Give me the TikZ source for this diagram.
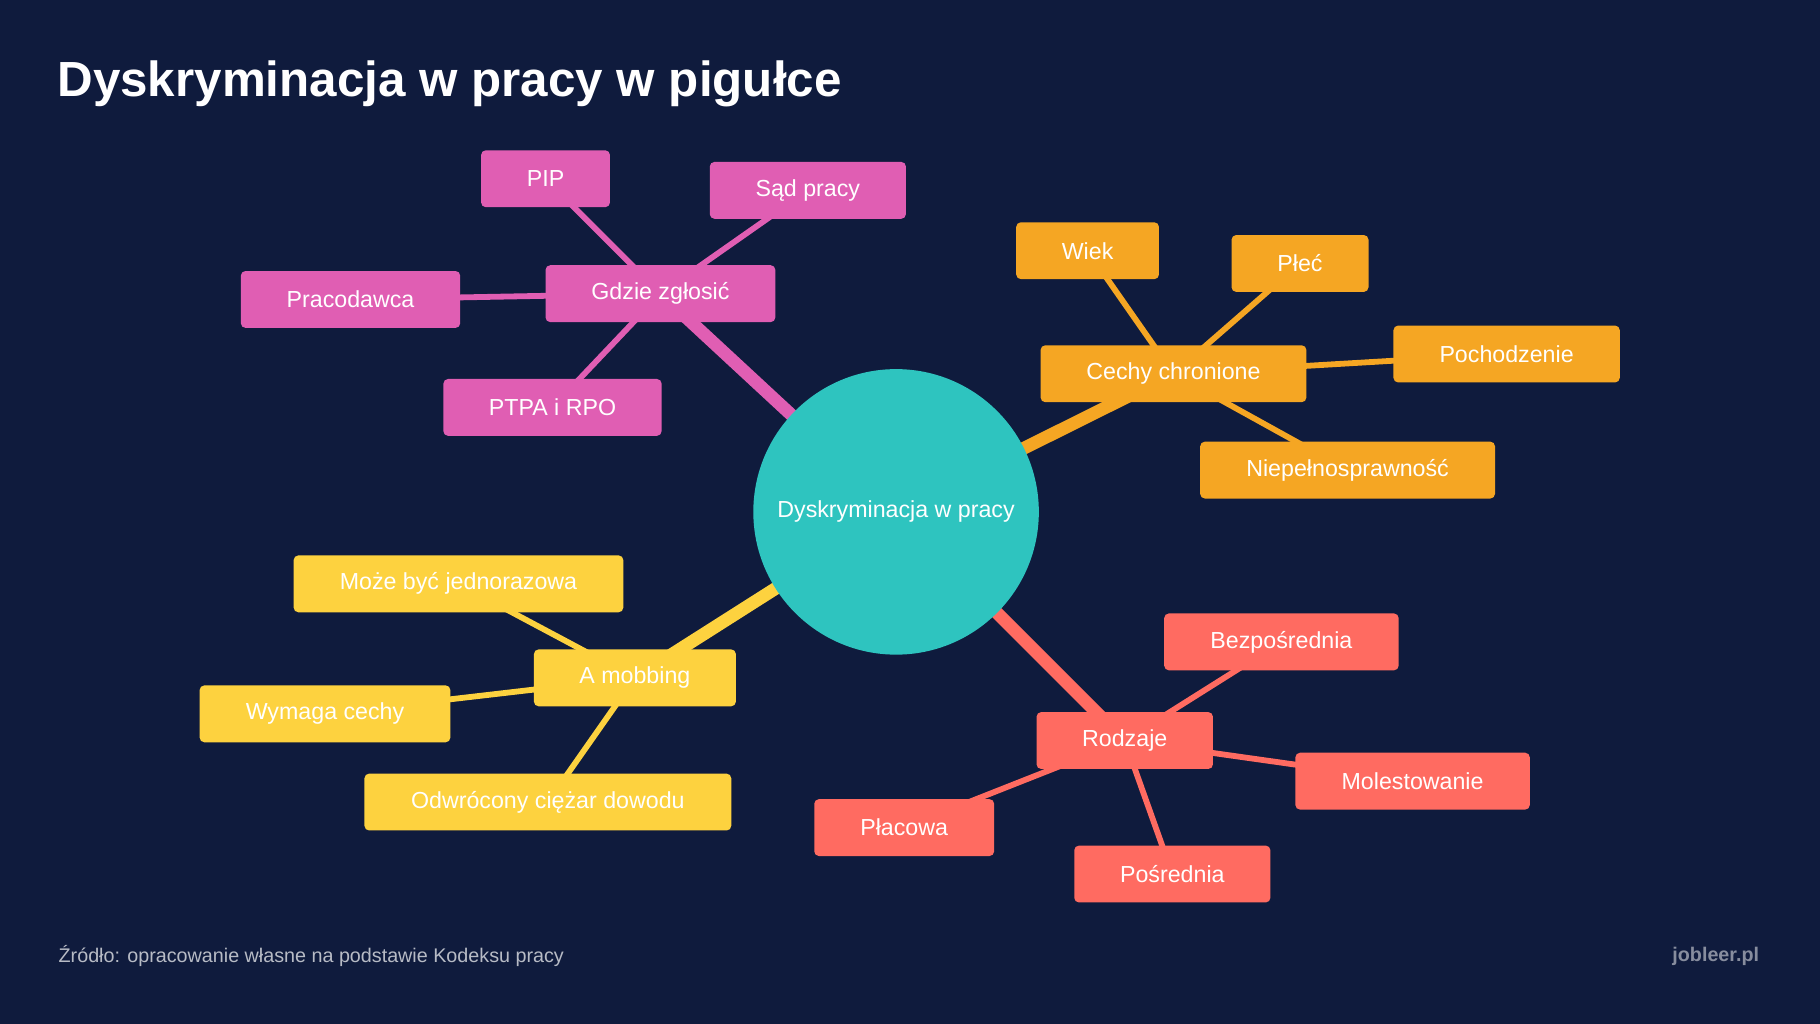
\documentclass[tikz,border=0pt]{standalone}
\usepackage{fontspec}
\setmainfont{Liberation Sans}
\begin{document}
\definecolor{bg}{HTML}{0F1B3D}
\definecolor{teal}{HTML}{2EC4BF}
\definecolor{pnk}{HTML}{E05EB3}
\definecolor{org}{HTML}{F5A623}
\definecolor{yel}{HTML}{FDD23F}
\definecolor{sal}{HTML}{FF6B61}
\pgfdeclarelayer{bottom}
\pgfdeclarelayer{lines}
\pgfsetlayers{bottom,lines,main}
\begin{tikzpicture}[x=1pt,y=-1pt,
 box/.style={rectangle,rounded corners=4pt,minimum height=49pt,text=white,font=\fontsize{20}{22}\selectfont,inner sep=0pt},
 main/.style={line width=11pt},
 sub/.style={line width=5pt}]
\begin{pgfonlayer}{bottom}
\fill[bg] (0,0) rectangle (1568,882);
\end{pgfonlayer}
\node[anchor=west,text=white,font=\fontsize{42.5}{46}\selectfont\bfseries] (title) at (46,72) {Dyskryminacja w pracy w pigułce};
\node[anchor=west,text=white!70!bg,font=\fontsize{17}{18}\selectfont] (src) at (47,824) {Źródło: opracowanie własne na podstawie Kodeksu pracy};
\node[anchor=east,text=white!50!bg,font=\fontsize{17}{18}\selectfont\bfseries] (logo) at (1519,824) {jobleer.pl};

\node[circle,fill=teal,minimum size=246pt,inner sep=0pt,text=white,font=\fontsize{20}{22}\selectfont] (c) at (772,441) {Dyskryminacja w pracy};

\begin{scope}[every node/.append style={box,fill=pnk}]
\node[minimum width=198pt] (g) at (569,253) {Gdzie zgłosić};
\node[minimum width=111pt] (pip) at (470,154) {PIP};
\node[minimum width=169pt] (sad) at (696,164) {Sąd pracy};
\node[minimum width=189pt] (prac) at (302,258) {Pracodawca};
\node[minimum width=188pt] (ptpa) at (476,351) {PTPA i RPO};
\end{scope}
\begin{scope}[every node/.append style={box,fill=org}]
\node[minimum width=229pt] (cc) at (1011,322) {Cechy chronione};
\node[minimum width=123pt] (wiek) at (937,216) {Wiek};
\node[minimum width=118pt] (plec) at (1120,227) {Płeć};
\node[minimum width=195pt] (poch) at (1298,305) {Pochodzenie};
\node[minimum width=254pt] (niep) at (1161,405) {Niepełnosprawność};
\end{scope}
\begin{scope}[every node/.append style={box,fill=yel}]
\node[minimum width=174pt] (mob) at (547,584) {A mobbing};
\node[minimum width=284pt] (moze) at (395,503) {Może być jednorazowa};
\node[minimum width=216pt] (wym) at (280,615) {Wymaga cechy};
\node[minimum width=316pt] (odw) at (472,691) {Odwrócony ciężar dowodu};
\end{scope}
\begin{scope}[every node/.append style={box,fill=sal}]
\node[minimum width=152pt] (rod) at (969,638) {Rodzaje};
\node[minimum width=202pt] (bez) at (1104,553) {Bezpośrednia};
\node[minimum width=202pt] (mol) at (1217,673) {Molestowanie};
\node[minimum width=155pt] (plac) at (779,713) {Płacowa};
\node[minimum width=169pt] (pos) at (1010,753) {Pośrednia};
\end{scope}

\begin{pgfonlayer}{lines}
\draw[main,pnk] (c.center) -- (g.center);
\draw[main,org] (c.center) -- (cc.center);
\draw[main,yel] (c.center) -- (mob.center);
\draw[main,sal] (c.center) -- (rod.center);
\foreach \n in {pip,sad,prac,ptpa} \draw[sub,pnk] (g.center) -- (\n.center);
\foreach \n in {wiek,plec,poch,niep} \draw[sub,org] (cc.center) -- (\n.center);
\foreach \n in {moze,wym,odw} \draw[sub,yel] (mob.center) -- (\n.center);
\foreach \n in {bez,mol,plac,pos} \draw[sub,sal] (rod.center) -- (\n.center);
\end{pgfonlayer}
\end{tikzpicture}
\end{document}
